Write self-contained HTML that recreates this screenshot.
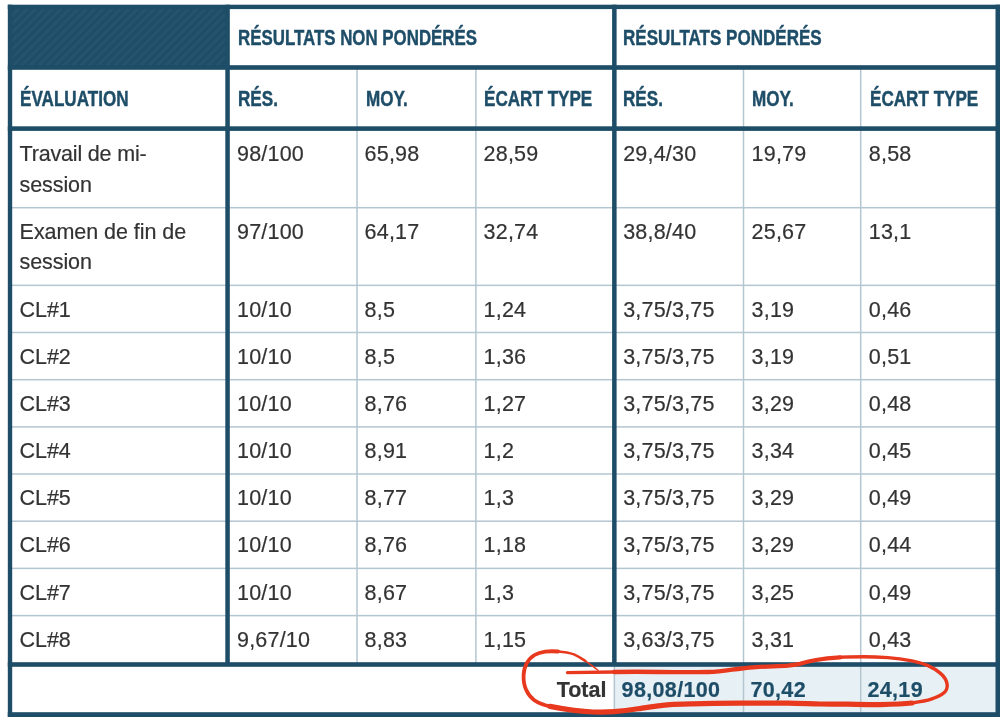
<!DOCTYPE html>
<html lang="fr"><head><meta charset="utf-8"><title>Résultats</title>
<style>
html,body{margin:0;padding:0;background:#fff;}
body{width:1000px;height:717px;position:relative;overflow:hidden;font-family:"Liberation Sans",Arial,Helvetica,sans-serif;color:#333333;}
svg{position:absolute;left:0;top:0;}
.c{position:absolute;font-size:21.5px;line-height:30.4px;white-space:nowrap;-webkit-text-stroke:0.2px;}
.n{letter-spacing:0.2px;}
.l{letter-spacing:-0.1px;}
.h{position:absolute;font-size:22px;line-height:30px;font-weight:bold;color:#1e4d68;white-space:nowrap;-webkit-text-stroke:0.45px #1e4d68;}
.h span{display:inline-block;transform-origin:0 50%;transform:scale(0.777,1.035);}
.tot{font-weight:bold;color:#1e4d68;letter-spacing:0.35px;}
.b{font-weight:bold;}
</style></head><body>
<svg width="1000" height="717" viewBox="0 0 1000 717">
<defs><pattern id="st" width="6" height="6" patternUnits="userSpaceOnUse" patternTransform="rotate(-45)"><rect x="0" y="0" width="6" height="3" fill="#ffffff" fill-opacity="0.03"/></pattern></defs>
<rect x="8.00" y="5.00" width="220.00" height="61.00" fill="#1e4d68"/>
<rect x="12.00" y="9.00" width="214.00" height="56.50" fill="url(#st)"/>
<rect x="615.00" y="666.00" width="381.00" height="47.00" fill="#e7f0f4"/>
<rect x="12.00" y="206.95" width="984.00" height="1.50" fill="#b4c6d0"/>
<rect x="12.00" y="284.60" width="984.00" height="1.50" fill="#b4c6d0"/>
<rect x="12.00" y="331.75" width="984.00" height="1.50" fill="#b4c6d0"/>
<rect x="12.00" y="378.95" width="984.00" height="1.50" fill="#b4c6d0"/>
<rect x="12.00" y="426.15" width="984.00" height="1.50" fill="#b4c6d0"/>
<rect x="12.00" y="473.25" width="984.00" height="1.50" fill="#b4c6d0"/>
<rect x="12.00" y="520.45" width="984.00" height="1.50" fill="#b4c6d0"/>
<rect x="12.00" y="567.65" width="984.00" height="1.50" fill="#b4c6d0"/>
<rect x="12.00" y="614.85" width="984.00" height="1.50" fill="#b4c6d0"/>
<rect x="356.25" y="69.00" width="1.50" height="594.00" fill="#b4c6d0"/>
<rect x="475.15" y="69.00" width="1.50" height="594.00" fill="#b4c6d0"/>
<rect x="742.75" y="69.00" width="1.50" height="644.00" fill="#b4c6d0"/>
<rect x="859.95" y="69.00" width="1.50" height="644.00" fill="#b4c6d0"/>
<rect x="613.60" y="666.00" width="1.50" height="47.00" fill="#b4c6d0"/>
<rect x="7.80" y="4.70" width="992.20" height="4.40" fill="#1e4d68"/>
<rect x="7.80" y="712.20" width="992.20" height="4.80" fill="#1e4d68"/>
<rect x="7.80" y="4.70" width="4.40" height="712.30" fill="#1e4d68"/>
<rect x="995.50" y="4.70" width="4.50" height="712.30" fill="#1e4d68"/>
<rect x="7.80" y="65.20" width="992.20" height="4.60" fill="#1e4d68"/>
<rect x="7.80" y="126.30" width="992.20" height="4.60" fill="#1e4d68"/>
<rect x="7.80" y="662.20" width="992.20" height="4.60" fill="#1e4d68"/>
<rect x="225.30" y="4.70" width="4.50" height="659.30" fill="#1e4d68"/>
<rect x="612.10" y="4.70" width="4.50" height="659.30" fill="#1e4d68"/>
</svg>
<div class="h" style="left:238.00px;top:22.80px"><span style="transform:scale(0.767,1.035)">RÉSULTATS NON PONDÉRÉS</span></div>
<div class="h" style="left:623.20px;top:22.80px"><span style="transform:scale(0.774,1.035)">RÉSULTATS PONDÉRÉS</span></div>
<div class="h" style="left:20.20px;top:83.60px"><span>ÉVALUATION</span></div>
<div class="h" style="left:237.60px;top:83.60px"><span>RÉS.</span></div>
<div class="h" style="left:366.00px;top:83.60px"><span>MOY.</span></div>
<div class="h" style="left:484.40px;top:83.60px"><span>ÉCART TYPE</span></div>
<div class="h" style="left:623.20px;top:83.60px"><span>RÉS.</span></div>
<div class="h" style="left:751.90px;top:83.60px"><span>MOY.</span></div>
<div class="h" style="left:869.50px;top:83.60px"><span>ÉCART TYPE</span></div>
<div class="c l" style="left:19.60px;top:139.40px"><span style="letter-spacing:-0.18px">Travail de mi-</span><br>session</div>
<div class="c n" style="left:237.00px;top:139.40px">98/100</div>
<div class="c n" style="left:364.60px;top:139.40px">65,98</div>
<div class="c n" style="left:483.60px;top:139.40px">28,59</div>
<div class="c n" style="left:623.20px;top:139.40px">29,4/30</div>
<div class="c n" style="left:751.60px;top:139.40px">19,79</div>
<div class="c n" style="left:868.80px;top:139.40px">8,58</div>
<div class="c l" style="left:19.60px;top:216.90px"><span style="letter-spacing:-0.05px">Examen de fin de</span><br>session</div>
<div class="c n" style="left:237.00px;top:216.90px">97/100</div>
<div class="c n" style="left:364.60px;top:216.90px">64,17</div>
<div class="c n" style="left:483.60px;top:216.90px">32,74</div>
<div class="c n" style="left:623.20px;top:216.90px">38,8/40</div>
<div class="c n" style="left:751.60px;top:216.90px">25,67</div>
<div class="c n" style="left:868.80px;top:216.90px">13,1</div>
<div class="c l" style="left:19.60px;top:294.55px">CL#1</div>
<div class="c n" style="left:237.00px;top:294.55px">10/10</div>
<div class="c n" style="left:364.60px;top:294.55px">8,5</div>
<div class="c n" style="left:483.60px;top:294.55px">1,24</div>
<div class="c n" style="left:623.20px;top:294.55px">3,75/3,75</div>
<div class="c n" style="left:751.60px;top:294.55px">3,19</div>
<div class="c n" style="left:868.80px;top:294.55px">0,46</div>
<div class="c l" style="left:19.60px;top:341.70px">CL#2</div>
<div class="c n" style="left:237.00px;top:341.70px">10/10</div>
<div class="c n" style="left:364.60px;top:341.70px">8,5</div>
<div class="c n" style="left:483.60px;top:341.70px">1,36</div>
<div class="c n" style="left:623.20px;top:341.70px">3,75/3,75</div>
<div class="c n" style="left:751.60px;top:341.70px">3,19</div>
<div class="c n" style="left:868.80px;top:341.70px">0,51</div>
<div class="c l" style="left:19.60px;top:388.90px">CL#3</div>
<div class="c n" style="left:237.00px;top:388.90px">10/10</div>
<div class="c n" style="left:364.60px;top:388.90px">8,76</div>
<div class="c n" style="left:483.60px;top:388.90px">1,27</div>
<div class="c n" style="left:623.20px;top:388.90px">3,75/3,75</div>
<div class="c n" style="left:751.60px;top:388.90px">3,29</div>
<div class="c n" style="left:868.80px;top:388.90px">0,48</div>
<div class="c l" style="left:19.60px;top:436.10px">CL#4</div>
<div class="c n" style="left:237.00px;top:436.10px">10/10</div>
<div class="c n" style="left:364.60px;top:436.10px">8,91</div>
<div class="c n" style="left:483.60px;top:436.10px">1,2</div>
<div class="c n" style="left:623.20px;top:436.10px">3,75/3,75</div>
<div class="c n" style="left:751.60px;top:436.10px">3,34</div>
<div class="c n" style="left:868.80px;top:436.10px">0,45</div>
<div class="c l" style="left:19.60px;top:483.20px">CL#5</div>
<div class="c n" style="left:237.00px;top:483.20px">10/10</div>
<div class="c n" style="left:364.60px;top:483.20px">8,77</div>
<div class="c n" style="left:483.60px;top:483.20px">1,3</div>
<div class="c n" style="left:623.20px;top:483.20px">3,75/3,75</div>
<div class="c n" style="left:751.60px;top:483.20px">3,29</div>
<div class="c n" style="left:868.80px;top:483.20px">0,49</div>
<div class="c l" style="left:19.60px;top:530.40px">CL#6</div>
<div class="c n" style="left:237.00px;top:530.40px">10/10</div>
<div class="c n" style="left:364.60px;top:530.40px">8,76</div>
<div class="c n" style="left:483.60px;top:530.40px">1,18</div>
<div class="c n" style="left:623.20px;top:530.40px">3,75/3,75</div>
<div class="c n" style="left:751.60px;top:530.40px">3,29</div>
<div class="c n" style="left:868.80px;top:530.40px">0,44</div>
<div class="c l" style="left:19.60px;top:577.60px">CL#7</div>
<div class="c n" style="left:237.00px;top:577.60px">10/10</div>
<div class="c n" style="left:364.60px;top:577.60px">8,67</div>
<div class="c n" style="left:483.60px;top:577.60px">1,3</div>
<div class="c n" style="left:623.20px;top:577.60px">3,75/3,75</div>
<div class="c n" style="left:751.60px;top:577.60px">3,25</div>
<div class="c n" style="left:868.80px;top:577.60px">0,49</div>
<div class="c l" style="left:19.60px;top:624.80px">CL#8</div>
<div class="c n" style="left:237.00px;top:624.80px">9,67/10</div>
<div class="c n" style="left:364.60px;top:624.80px">8,83</div>
<div class="c n" style="left:483.60px;top:624.80px">1,15</div>
<div class="c n" style="left:623.20px;top:624.80px">3,63/3,75</div>
<div class="c n" style="left:751.60px;top:624.80px">3,31</div>
<div class="c n" style="left:868.80px;top:624.80px">0,43</div>
<div class="c b" style="right:393.60px;top:675.20px">Total</div>
<div class="c tot" style="left:621.60px;top:675.20px">98,08/100</div>
<div class="c tot" style="left:750.40px;top:675.20px">70,42</div>
<div class="c tot" style="left:867.40px;top:675.20px">24,19</div>
<svg width="1000" height="717" viewBox="0 0 1000 717" fill="none" stroke="#e8391f" stroke-linecap="round" stroke-linejoin="round">
<path stroke-width="1.4" d="M598 670.2 C593.5 666.6 589 663.5 585.2 660.8"/>
<path stroke-width="2.6" d="M585.2 660.8 C581 658 577 655.8 574 654.4 C569 652.6 563 651.8 558 651.5"/>
<path stroke-width="3.8" d="M558 651.5 C554 651.2 549 651.2 545.2 651.6 C541 652.2 537.5 653.2 534.6 655 C531 657.2 528.6 659.8 527.2 662.6 C524.8 666.5 523.8 671 523.6 675.2 C523.4 680.5 524.2 685.5 526 689.6 C527.8 693.8 530.5 697.4 534 700 C538.5 703.2 544 705.2 550 706.4"/>
<path stroke-width="5.2" d="M550 706.4 C558 708 566 709.4 574 710.4 C580.5 711.2 587 711.8 593.2 712 C600 712.2 607 712.2 614 711.7 C622 711 630 710 638 708.8 C648 707.3 659 705.5 670 704.6 C677 704.2 685 704 692 703.8 C708 703.3 724 703.2 740 703.2 C756 703.2 772 703.2 788 703.2 C799 703.3 810 703.8 820 704 C830 704.2 839 704.2 848 704.2 C859 704.5 870 704.8 880 704.6 C891 704.4 902 704.2 912 703"/>
<path stroke-width="3.4" d="M912 703 C919 702 926 701 931.2 699.2 C936.5 697.4 941 695.5 944 692.8 C946.5 690.5 947.4 687.8 947.2 684.8 C946.8 680.5 944.5 676.8 940.8 673.6 C937.2 670.4 933 667.8 928 665.6 C923 663.4 917.5 661.9 912 660.8 C904 659.2 896 658.1 888 657.6 C880 657.1 872 656.8 864 656.8 C856 656.8 848 656.8 840 657.3"/>
<path stroke-width="4.3" d="M840 657.3 C832 657.8 824 658.6 816 660 C810.5 661 805 662.4 800 663.8 C796 664.6 792 665.2 788 665.6 C777 666.3 766.5 666.4 756 667.2 C748 667.8 740 668.8 732 669.6 C724 670.8 716 671.8 708 672 C692 672.3 676 672.2 660 672 C645 671.7 630 671.6 614 672"/>
<path stroke-width="3.4" d="M614 672 C598 672.2 582 672.4 567.5 672.6"/>
</svg>
</body></html>
